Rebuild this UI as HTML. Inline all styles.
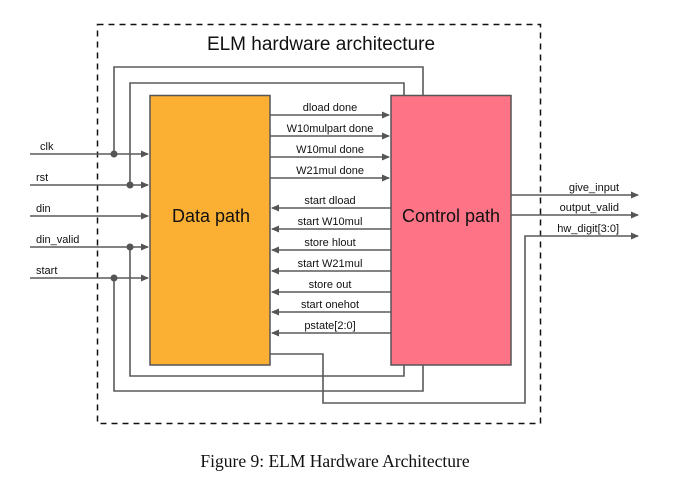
<!DOCTYPE html>
<html><head><meta charset="utf-8"><style>
html,body{margin:0;padding:0;background:#fff;}
svg{display:block;}
.s{font-family:"Liberation Sans","DejaVu Sans",sans-serif;fill:#111;}
</style></head><body>
<svg width="680" height="483" viewBox="0 0 680 483" xmlns="http://www.w3.org/2000/svg">
<defs>
<marker id="a" markerWidth="8" markerHeight="8" refX="7" refY="4" orient="auto" markerUnits="userSpaceOnUse">
<path d="M0,0.5 L8,4 L0,7.5 z" fill="#555"/></marker>
</defs>
<rect x="97.5" y="24.5" width="443" height="399" fill="none" stroke="#111" stroke-width="1.5" stroke-dasharray="6,5"/>
<text class="s" x="321" y="50" font-size="19" text-anchor="middle">ELM hardware architecture</text>
<g fill="none" stroke="#5a5a5a" stroke-width="1.6">
<polyline points="114,154 114,67 423,67 423,95"/>
<polyline points="130,185 130,83 404,83 404,95"/>
<polyline points="130,247 130,376 404,376 404,365"/>
<polyline points="114,278 114,391 423,391 423,365"/>
<polyline points="270,354 323,354 323,403 525,403 525,236 638,236" marker-end="url(#a)"/>
<line x1="30" y1="154" x2="148" y2="154" marker-end="url(#a)"/>
<line x1="30" y1="185" x2="148" y2="185" marker-end="url(#a)"/>
<line x1="30" y1="216" x2="148" y2="216" marker-end="url(#a)"/>
<line x1="30" y1="247" x2="148" y2="247" marker-end="url(#a)"/>
<line x1="30" y1="278" x2="148" y2="278" marker-end="url(#a)"/>
<line x1="270" y1="115" x2="389" y2="115" marker-end="url(#a)"/>
<line x1="270" y1="136" x2="389" y2="136" marker-end="url(#a)"/>
<line x1="270" y1="157" x2="389" y2="157" marker-end="url(#a)"/>
<line x1="270" y1="178" x2="389" y2="178" marker-end="url(#a)"/>
<line x1="391" y1="208" x2="272" y2="208" marker-end="url(#a)"/>
<line x1="391" y1="229" x2="272" y2="229" marker-end="url(#a)"/>
<line x1="391" y1="250" x2="272" y2="250" marker-end="url(#a)"/>
<line x1="391" y1="271" x2="272" y2="271" marker-end="url(#a)"/>
<line x1="391" y1="292" x2="272" y2="292" marker-end="url(#a)"/>
<line x1="391" y1="312" x2="272" y2="312" marker-end="url(#a)"/>
<line x1="391" y1="333" x2="272" y2="333" marker-end="url(#a)"/>
<line x1="511" y1="195" x2="638" y2="195" marker-end="url(#a)"/>
<line x1="511" y1="215" x2="638" y2="215" marker-end="url(#a)"/>
</g>
<g fill="#555"><circle cx="114" cy="154" r="3.5"/><circle cx="130" cy="185" r="3.5"/><circle cx="130" cy="247" r="3.5"/><circle cx="114" cy="278" r="3.5"/></g>
<rect x="150" y="95.5" width="120" height="269.5" fill="#FBB034" stroke="#555" stroke-width="1.5"/>
<rect x="391" y="95.5" width="120" height="269.5" fill="#FF7386" stroke="#555" stroke-width="1.5"/>
<text class="s" x="211" y="222" font-size="18" text-anchor="middle">Data path</text>
<text class="s" x="451" y="222" font-size="18" text-anchor="middle">Control path</text>
<g class="s" font-size="11">
<text x="40" y="150">clk</text>
<text x="36" y="181">rst</text>
<text x="36" y="212">din</text>
<text x="36" y="243">din_valid</text>
<text x="36" y="274">start</text>
</g>
<g class="s" font-size="11" text-anchor="middle">
<text x="330" y="111">dload done</text>
<text x="330" y="132">W10mulpart done</text>
<text x="330" y="153">W10mul done</text>
<text x="330" y="174">W21mul done</text>
<text x="330" y="204">start dload</text>
<text x="330" y="225">start W10mul</text>
<text x="330" y="246">store hlout</text>
<text x="330" y="267">start W21mul</text>
<text x="330" y="288">store out</text>
<text x="330" y="308">start onehot</text>
<text x="330" y="329">pstate[2:0]</text>
</g>
<g class="s" font-size="11" text-anchor="end">
<text x="619" y="191">give_input</text>
<text x="619" y="211">output_valid</text>
<text x="619" y="232">hw_digit[3:0]</text>
</g>
<text x="335" y="467" font-family="'Liberation Serif','DejaVu Serif',serif" font-size="17.5" text-anchor="middle" fill="#111">Figure 9: ELM Hardware Architecture</text>
</svg>
</body></html>
